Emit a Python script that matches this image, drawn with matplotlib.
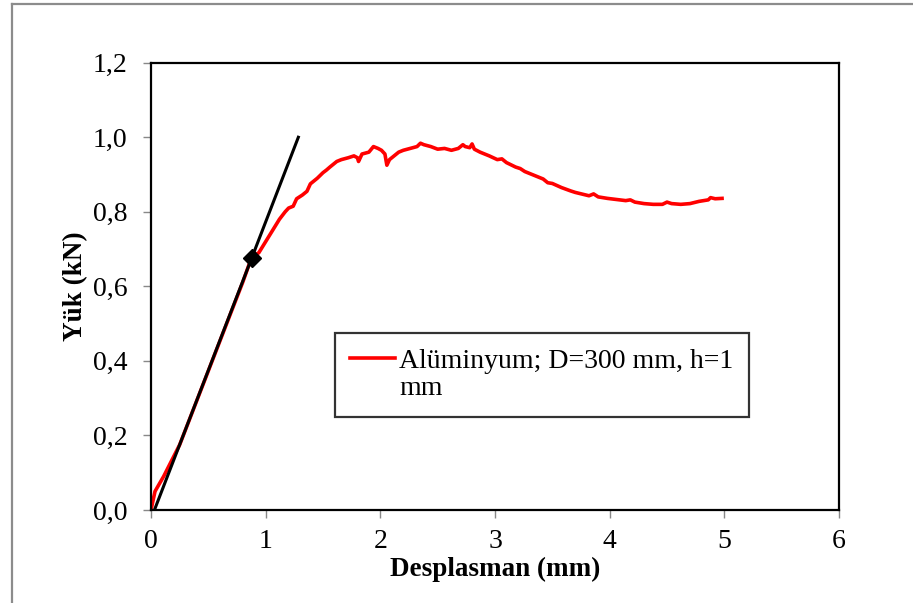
import matplotlib
matplotlib.use("Agg")
import matplotlib.pyplot as plt
from matplotlib.lines import Line2D

plt.rcParams['font.family'] = ['Liberation Serif', 'DejaVu Serif']

# Measured load-displacement curve (aluminium plate)
disp_mm = [0.00, 0.035, 0.11, 0.25, 0.40, 0.55, 0.70, 0.80, 0.88, 0.94, 1.00, 1.06,
           1.12, 1.17, 1.20, 1.24, 1.27, 1.32, 1.36, 1.39, 1.45, 1.50, 1.53, 1.56,
           1.62, 1.66, 1.72, 1.77, 1.80, 1.81, 1.84, 1.90, 1.94, 1.98, 2.01, 2.04,
           2.057, 2.08, 2.12, 2.16, 2.20, 2.26, 2.32, 2.35, 2.38, 2.44, 2.50, 2.56,
           2.62, 2.68, 2.72, 2.74, 2.78, 2.80, 2.82, 2.87, 2.95, 3.02, 3.06, 3.10,
           3.18, 3.22, 3.26, 3.34, 3.42, 3.46, 3.50, 3.58, 3.66, 3.70, 3.74, 3.82,
           3.86, 3.90, 3.98, 4.06, 4.14, 4.18, 4.22, 4.30, 4.38, 4.46, 4.50, 4.54,
           4.62, 4.70, 4.78, 4.86, 4.88, 4.92, 4.98]
load_kN = [0.00, 0.05, 0.09, 0.175, 0.294, 0.413, 0.532, 0.611, 0.68, 0.69, 0.72, 0.75,
           0.78, 0.80, 0.81, 0.815, 0.835, 0.845, 0.855, 0.875, 0.89, 0.905, 0.912, 0.92,
           0.935, 0.94, 0.945, 0.95, 0.945, 0.935, 0.955, 0.96, 0.975, 0.97, 0.965, 0.955,
           0.925, 0.94, 0.95, 0.96, 0.965, 0.97, 0.975, 0.984, 0.98, 0.975, 0.968, 0.97,
           0.965, 0.97, 0.98, 0.975, 0.972, 0.982, 0.968, 0.96, 0.95, 0.94, 0.942, 0.932,
           0.92, 0.916, 0.908, 0.898, 0.888, 0.878, 0.876, 0.865, 0.856, 0.852, 0.849, 0.843,
           0.848, 0.84, 0.836, 0.833, 0.83, 0.832, 0.826, 0.822, 0.82, 0.82, 0.826, 0.822,
           0.82, 0.822, 0.828, 0.832, 0.838, 0.835, 0.836]

# Initial stiffness line and the marked elastic limit point
tangent_x = [0.03, 1.285]
tangent_y = [0.0, 1.0]
limit_x = [0.88]
limit_y = [0.675]

xticks = [0, 1, 2, 3, 4, 5, 6]
yticks = [0.0, 0.2, 0.4, 0.6, 0.8, 1.0, 1.2]
ytick_labels = ['0,0', '0,2', '0,4', '0,6', '0,8', '1,0', '1,2']
legend_label = 'Alüminyum; D=300 mm, h=1'

fig = plt.figure(figsize=(9.13, 6.03), dpi=100)
W, H = 913, 603
ax = fig.add_axes([151 / W, 1 - 510 / H, (839 - 151) / W, (510 - 62.7) / H])

red, = ax.plot(disp_mm, load_kN, color='#ff0000', lw=2.6, solid_joinstyle='round')
ax.plot(tangent_x, tangent_y, color='black', lw=2.2)
ax.plot(limit_x, limit_y, marker='D', color='black', markersize=9, ls='none')

ax.set_xlim(0, 6)
ax.set_ylim(0, 1.2)
ax.set_xticks(xticks)
ax.set_xticklabels([str(t) for t in xticks])
ax.set_yticks(yticks)
ax.set_yticklabels(ytick_labels)
ax.tick_params(direction='out', length=6, width=1, color='#888888',
               labelsize=20, labelcolor='black')
ax.tick_params(axis='x', pad=8)
ax.tick_params(axis='y', pad=11)
for s in ax.spines.values():
    s.set_linewidth(1.6)
    s.set_color('black')

ax.set_xlabel('Desplasman (mm)', fontsize=19.5, fontweight='bold', labelpad=2)
ax.set_ylabel('Yük (kN)', fontsize=19.5, fontweight='bold', labelpad=3)

blank = Line2D([], [], color='none')
leg = ax.legend([red, blank], [legend_label, 'mm'], loc='upper left',
                bbox_to_anchor=((335 - 151) / 688, (510 - 333) / 447.3),
                borderaxespad=0, frameon=True, fancybox=False, fontsize=20,
                handlelength=1.6, handletextpad=0.17, labelspacing=0.08,
                borderpad=0.55)
leg.get_frame().set_edgecolor('black')
leg.get_frame().set_linewidth(1.6)

# Outer frame of the figure
fig.add_artist(Line2D([12 / W, 12 / W], [0, 1 - 4 / H], transform=fig.transFigure,
                      color='#8c8c8c', lw=1.6))
fig.add_artist(Line2D([12 / W, 1], [1 - 4 / H, 1 - 4 / H], transform=fig.transFigure,
                      color='#8c8c8c', lw=1.6))

fig.savefig('out.png', dpi=100)
